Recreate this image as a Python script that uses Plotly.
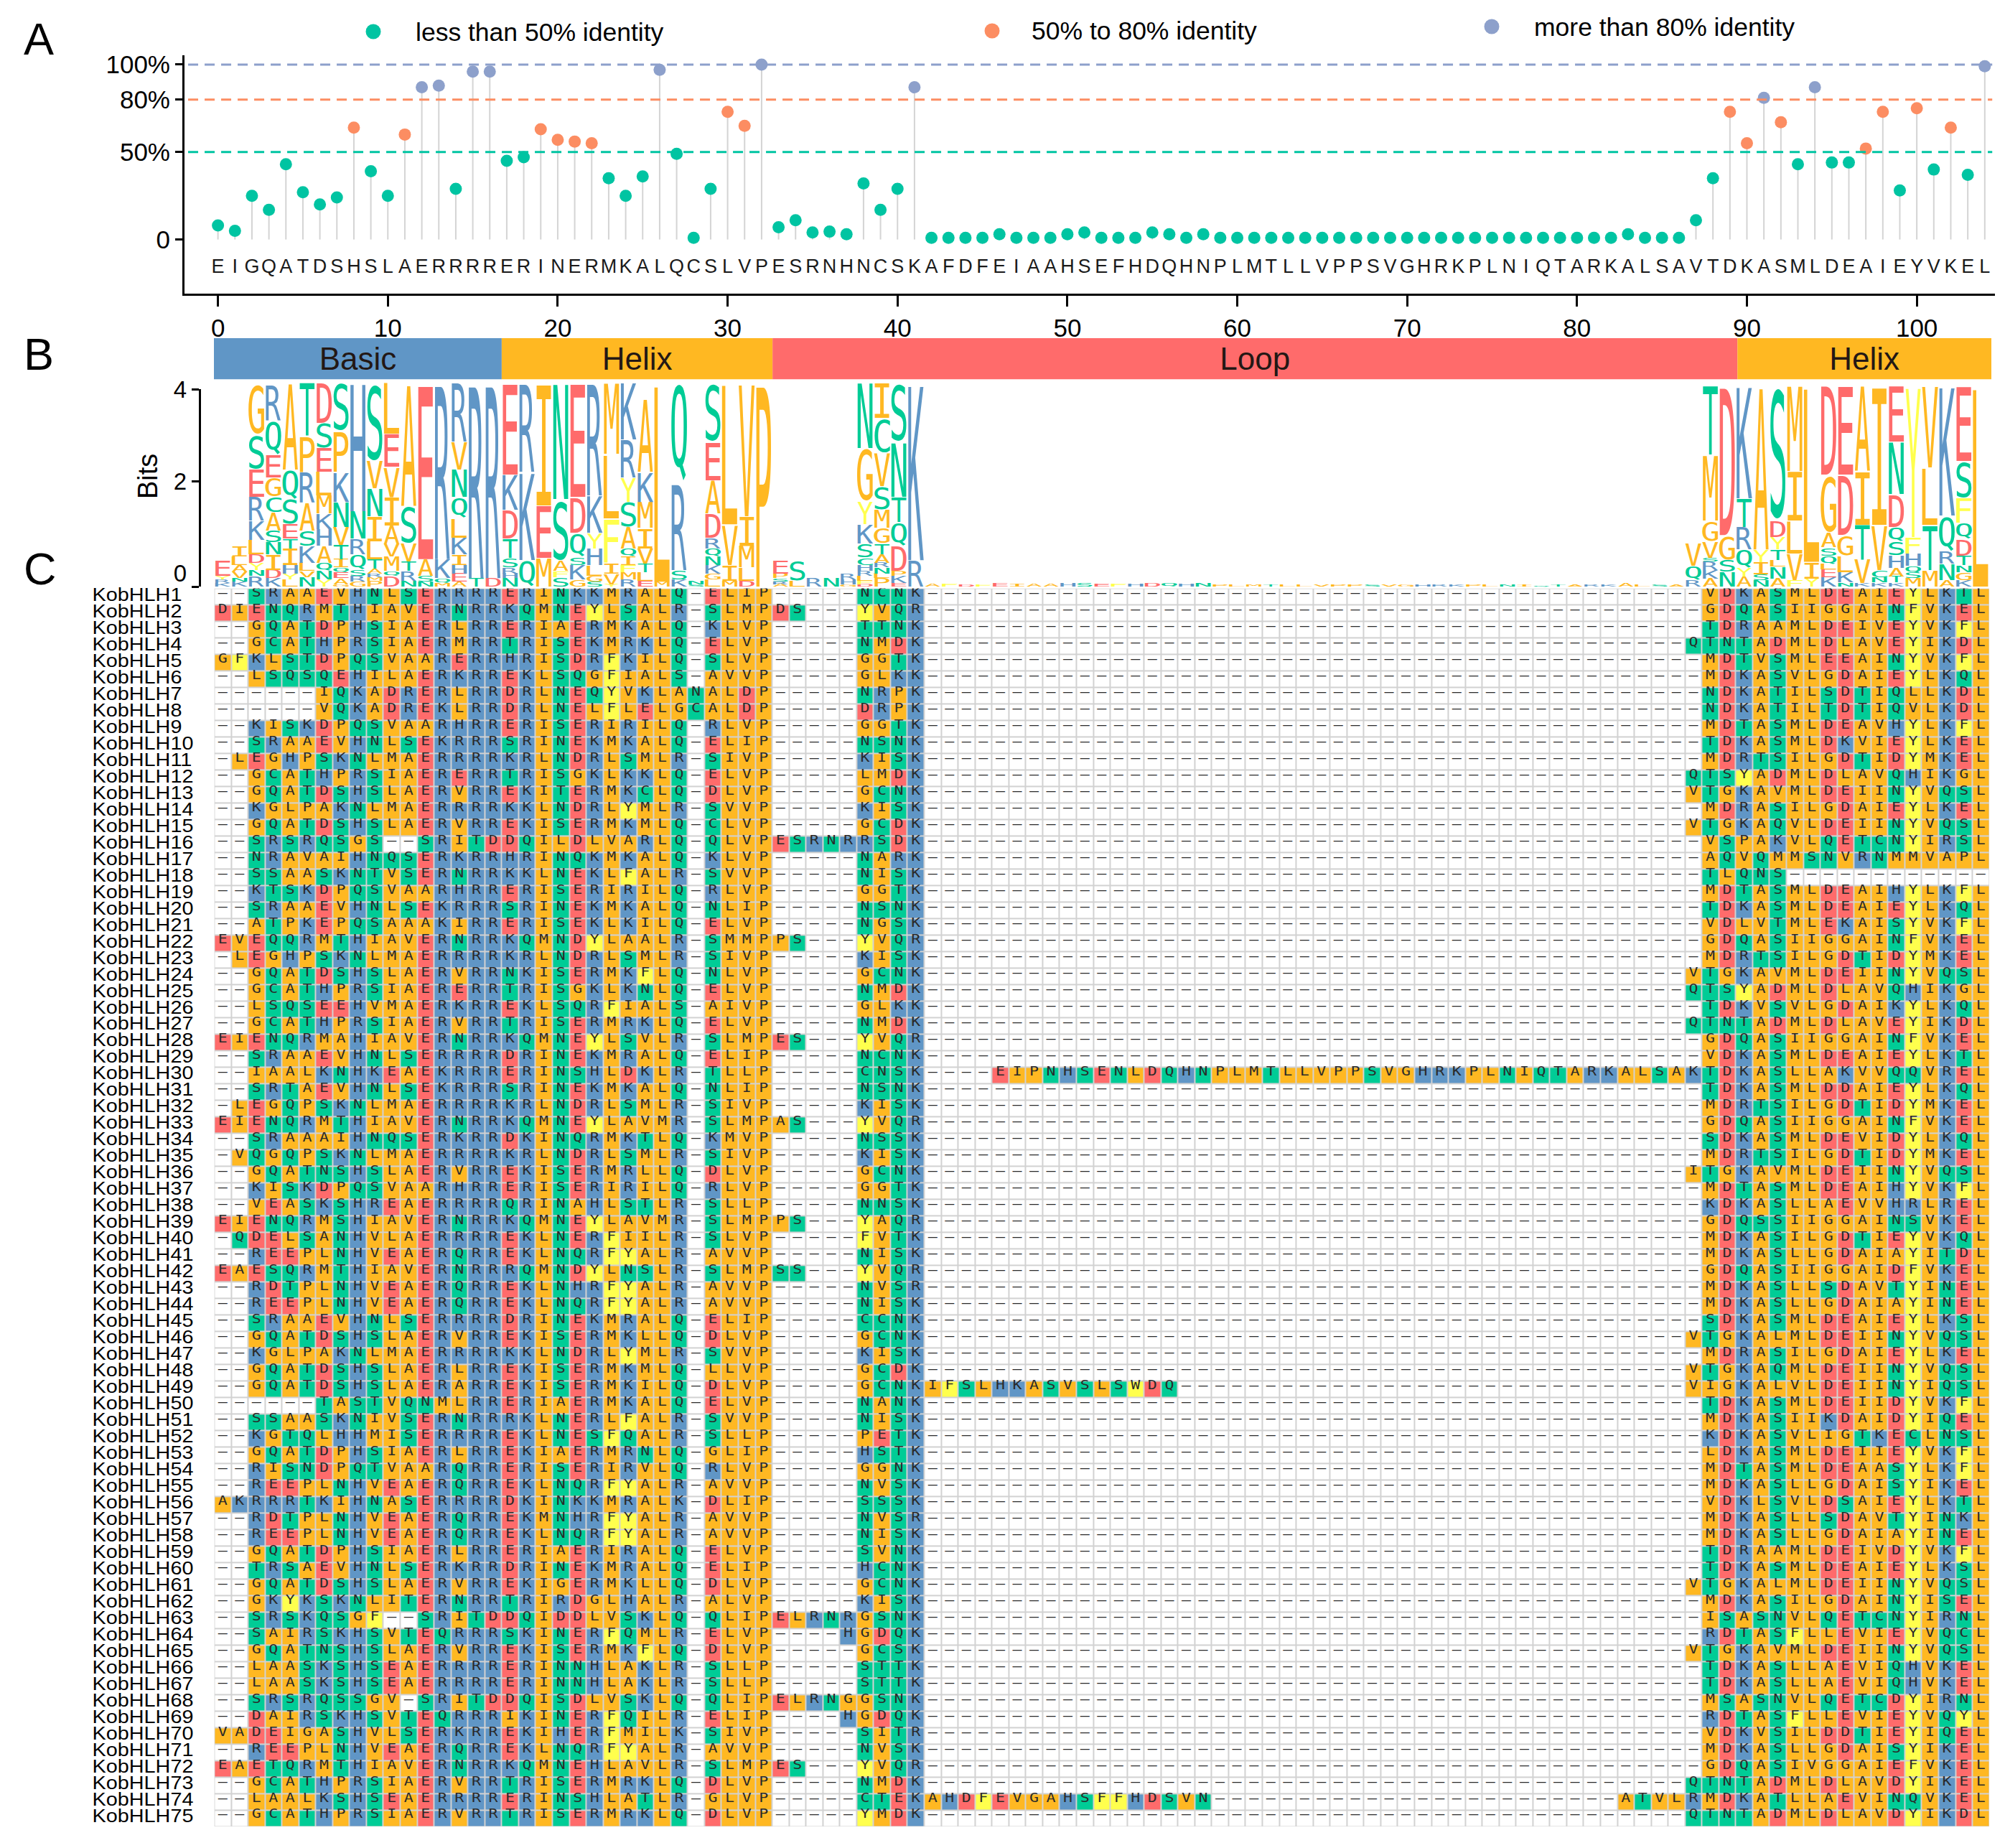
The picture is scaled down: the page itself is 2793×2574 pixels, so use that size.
import plotly.graph_objects as go

W, H = 2793, 2574
SANS = "Liberation Sans"
MONO = "DejaVu Sans Mono"

# ---------- panel A: per-column identity (%) and consensus ----------
identity = [8,5,25,17,43,27,20,24,64,39,25,60,87,88,29,96,96,45,47,63,57,56,55,35,25,36,97,49,1,29,
            73,65,100,7,11,4,4.5,3,32,17,29,87,1,1,1,1,3,1,1,1,3,4,1,1,1,4,3,1,3,1,
            1,1,1,1,1,1,1,1,1,1,1,1,1,1,1,1,1,1,1,1,1,1,1,3,1,1,1,11,35,73,
            55,81,67,43,87,44,44,52,73,28,75,40,64,37,99]
consensus = "EIGQATDSHSLAERRRRERINERMKALQCSLVPESRNHNCSKAFDFEIAAHSEFHDQHNPLMTLLVPPSVGHRKPLNIQTARKALSAVTDKASMLDEAIEYVKEL"
x_ticks = [0,10,20,30,40,50,60,70,80,90,100]
y_ticks = [0,50,80,100]
y_ticktext = ["0","50%","80%","100%"]
group_names = ["less than 50% identity","50% to 80% identity","more than 80% identity"]
group_colors = ["#00C4A2","#FC8D62","#8DA0CB"]

# ---------- panel B: regions ----------
region_names = ["Basic","Helix","Loop","Helix"]
region_start = [-0.5,16.5,32.5,89.5]
region_end = [16.5,32.5,89.5,104.5]
region_colors = ["#6096C6","#FFB822","#FF6B6B","#FFB822"]

# logo stacks, top letter first; left-hand heights are in 1/192 bit, right-hand in 1/111.5 bit
logo_left_letters = ["EYRK","ILAVNK","GSERKLDYNR","RQEGCASNIDK","AQSETIHYL","TPRASKLVN","DSELMKHAQNY","SPKNVTIQEAG",
    "HNRQSRG","SVNILTARMP","LEVIAVMQD","ASVTRN","EASN","RKQM","RVNQLKIHEA","RT","RD",
    "EKDTSRHN","RKQ","IEM","NSAFS","EDQSKG","RKYHLGS","MLFIVY","KRYSAQIFMR","AKMIVTLE","LM","QRSK","NS",
    "SEADRQNKGL","LVIM","VIMLD","P","EPSRA","SL","R","N","RHG","NGYKSCHRLFD","ICVSMGTARNLP","SNTQDPKE","KR"]
logo_left_heights = [[65,15,15,15],[45,35,28,27,15,20],[215,145,115,100,80,60,35,30,25,45],[150,145,95,80,65,75,50,50,65,35,35],
    [365,125,105,60,40,70,35,25,30],[225,150,130,115,65,70,35,25,40],[170,105,100,100,75,65,70,70,35,35,30],[205,170,125,105,75,60,35,20,25,25,10],
    [540,115,65,65,25,25,20],[330,115,115,105,75,40,20,15,15,25],[215,140,125,120,75,55,60,20,45],[515,160,75,40,40,25],
    [740,70,25,20],[740,80,20,15],[250,115,115,90,80,70,45,35,35,20],[820,35],[820,35],
    [387,148,120,80,40,25,20,35],[375,370,110],[515,220,120],[490,255,45,25,40],[480,150,100,35,60,30],[475,155,65,70,45,25,20],
    [300,270,185,45,45,10],[240,160,100,105,90,35,35,30,30,30],[310,125,110,85,65,35,35,25,65],[835,20],[420,365,40,30],[15,10],
    [250,160,140,100,45,35,35,35,25,30],[595,170,65,25],[560,125,90,55,25],[855],[55,20,13,12,10],[85,25],[35],[35],[25,20,10],
    [275,225,95,80,60,30,25,20,20,15,10],[150,145,140,100,75,65,45,35,20,25,20,35],[250,230,105,100,105,20,30,15],[745,110]]
logo_right_letters = ["VQR","TMGVSRKA","DGSN","KTRQYA","AYISN","SDYTLNA","MILVF","LIY","DGASQLEK","EDGLKN","AITVK","IVCNK",
    "ENDQSHATK","YFHQSM","VLTM","KQRNA","ESFQDTNGK","L"]
logo_right_heights = [[55,35,15],[170,160,50,40,10,20,20,20],[365,60,30,35],[275,70,55,45,20,25],[400,30,30,15,15],[330,40,30,25,17,28,20],
    [210,120,80,65,15],[430,40,20],[218,142,35,20,20,13,20,22],[218,147,50,40,25,10],[210,130,85,57,8],[340,110,18,12,10],
    [138,127,80,35,35,30,20,15,10],[370,40,30,15,15,20],[200,140,110,40],[318,87,30,40,15],[185,90,60,40,40,23,17,20,15],[490]]
logo_tiny_heights = [24,20,12,16,28,20,24,20,28,30,24,20,20,32,28,20,28,18,14,14,12,14,14,12,12,14,14,12,12,12,12,14,12,12,12,
                     12,12,14,14,12,14,28,16,14,12]

# ---------- panel C: alignment ----------
msa_left = """--SRAAEVHNLSERRRRERINKKMRALQ-ELIP-----NCNK
DIENQRMTHIAVERNRRKQMNEYLSALR-SLMPDS---YVQR
--GQATDPHSIAERLRRERIAERMKALQ-KLVP-----TTNK
--GCATHPRSIAERMRRTRISEKMRKLQ-ELVP-----NMDK
GFKLSTDPQSVAARERRHRISDRFKILQ-SLVP-----GGTK
--LSQSQEHILAERKRREKLSQGFIALS-AVVP-----GLKK
------IQKADRERLRRDRLNEQYVKLANALDP-----NRPK
------VQKADREKLRRDRLNELFLELGCALDP-----DRPK
--KISKDPQSVAARHRRERISERIRILQ-RLVP-----GGTK
--SRAAEVHNLSEKRRRSRINEKMKALQ-ELIP-----NSNK
-LEGHPSKNLMAERRRRKRLNDRLSMLR-SIVP-----KISK
--GCATHPRSIAERERRTRISGKLKKLQ-ELVP-----LMDK
--GQATDSHSLAERVRREKITERMKCLQ-DLVP-----GCNK
--KGLPAKNLMAERRRRKKLNDRLYMLR-SVVP-----KISK
--GQATDSHSLAERVRREKISERMKMLQ-CLVP-----GCDK
--SRSRQSGS--SRITDDQILDLVARLQ-QLVPESRNRRSDK
--NRAVAIHNQSERKRRHRINQKMKALQ-KLVP-----NARK
--SSAASKNTVSERNRRKKLNEKLFALR-SVVP-----NISK
--KTSKDPQSVAARHRRERISERIRILQ-RLVP-----GGTK
--SRAAEVHNLSEKRRRSRINEKMKALQ-NLIP-----NSNK
--ATPKEPQSAAAKIRRERISEKLKILQ-ELVP-----NGSK
EVEQQRMTHIAVERNRRKQMNDYLAALR-SMMPPS---YVQR
-LEGHPSKNLMAERRRRKRLNDRLSMLR-SIVP-----KISK
--GQATDSHSLAERVRRNKISERMKFLQ-NLVP-----GCNK
--GCATHPRSIAERERRTRISGKLKNLQ-ELVP-----NMDK
--LSQSEEHVMAERKRREKLSQRFIALS-AIVP-----GLKK
--GCATHPRSIAERVRRTRISERMRKLQ-ELVP-----NMDK
EIENQRMAHIAVERNRRKQMNEYLSVLR-SLMPES---YVQR
--SRAAEVHNLSERRRRDRINEKMRALQ-ELIP-----NCNK
--IAALKNHKEAEKRRRERINSHLDKLR-TLLP-----CNSK
--SRTAEVHNLSEKRRRSRINEKMKALQ-NLIP-----NSNK
-LEGQPSKNLMAERRRRKRLNDRLSMLR-SIVP-----KISK
EIENQRMTHIAVERNRRKQMNEYLAVMR-SLMPAS---YVQR
--SRAAAIHNQSERKRRDKINQRMKTLQ-KMVP-----NSSK
-VQGQPSKNLMAERRRRKRLNDRLSMLR-SIVP-----KISK
--GQATNSHSLAERVRREKISERMRLLQ-DLVP-----GCNK
--KISKDPQSVAARHRRERISERIRILQ-RLVP-----GGTK
--VEASKSHREAERRRRQRINAHLSTLR-SLLP-----NNSK
EIENQRMSHIAVERNRRKQMNEYLAVMR-SLMPPS---YAQR
-QDELSANHVLAERRRREKLNERFIILR-SLVP-----FVTK
--REEPLNHVEAERQRREKLNQRFYALR-AVVP-----NISK
EAESQRMTHIAVERNRRRQMNDYLNSLR-SLMPSS---YVQR
--RDTPLNHVEAERQRREKLNHRFYALR-AVVP-----NVSR
--REEPLNHVEAERQRREKLNQRFYALR-AVVP-----NISK
--SRAAEVHNLSERRRRDRINEKMRALQ-ELIP-----CCNK
--GQATDSHSLAERVRREKISERMKLLQ-DLVP-----GCNK
--KGLPAKNLMAERRRRKKLNDRLYMLR-SVVP-----KISK
--GQATDSHSLAERLRREKISERMKMLQ-LLVP-----GCDK
--GQATDSHSLAERARREKISERMKILQ-DLVP-----GCNK
------TASTVQNMLRRERIAERMKALQ-ELVP-----NANK
--SSAASKNIVSERNRRRKLNERLFALR-SVVP-----NISK
--KGTQLHHMISERRRREKLNESFQALR-SLLP-----PETK
--GQATDPHSIAERLRREKIAERMRNLQ-GLIP-----HSTK
--RISNDPQTVAARQRRERISERIRVLQ-RLVP-----GGNK
--REEPLNHVEAERQRREKLNQRFYALR-AVVP-----NVSK
AKRRRTKIHNASERRRRDKINKKMRALK-DLIP-----SSSK
--RDTPLNHVEAERQRREKMNHRFYALR-AVVP-----NVSR
--REEPLNHVEAERQRREKLNQRFYALR-AVVP-----NISK
--GQATDPHSIAERLRRERIAERIRALQ-ELVP-----SVNK
--TRSAEVHNLSERKRRDRINEKMRALQ-ELIP-----HCNK
--GQATDSHSLAERVRREKIGERMKLLQ-DLVP-----GCNK
--GKYKSKNLITERNRRTRIRDGLHALR-ALVP-----KISK
--SRSKQSGF--SRITDDQIDDLVSKLQ-QLIPELRNRGSNK
--SAIRSKHSVTEQRRRSKINERFQMLR-ELVP----HGDQK
--GQATNSHSLAERVRREKISERMKFLQ-DLVP-----GCSK
--LAASKSHSEAERRRRERINNHLAKLR-SLLP-----STTK
--LAASKSHSEAERRRRERINNHLAKLR-SLLP-----STTK
--SRSRQSSGV-SRITDDQISDLVSKLQ-QLIPELRNGGSNK
--DAIRSKHSVTEQRRRIKINERFQILR-ELIP----HGDQK
VADEIGASHVLSERKRREKIHERFMILK-SIVP-----SITR
--REEPLNHVEAERQRREKLNQRFYALR-AVVP-----NVSK
EAETQRMTHIAVERNRRKQMNEHLAVLR-SLMPES---YVQR
--GCATHPRSIAERVRRTRISERMRKLQ-DLVP-----NMDK
--LAALKSHSEAERRRRERINSHLATLR-GLVP-----CTEK
--GCATHPRSIAERVRRTRISERMRKLQ-DLVP-----YMDK""".split()
msa_right = """-VDKASMLDEAIEYLKTL
-GDQASIIGGAINFVKEL
-TDRAAMLDEIVEYVKFL
QTNTADMLDLAVEYIKDL
-MDTVSMLEEAINYVKFL
-MDKASVLGDAIEYLKQL
-NDKATILSDTIQLLKDL
-NDKATILTDTIQVLKDL
-MDTASMLDEAVHYLKFL
-TDKASMLDKVIEYLKEL
-MDRTSILGDTIDYMKEL
QTSYADMLDLAVQHIKGL
VTGKAVMLDEIINYVQSL
-MDRASILGDAIEYLKEL
VTGKAQVLDEIINYVQSL
-VSPAKVLQETCNYIRSL
-AQVQMMSNVRNMMVAPL
-TLQNS------------
-MDTASMLDEAIHYLKFL
-TDKASMLDEAIEYLKQL
-VDLVTMLEKAISYVKFL
-GDQASIIGGAINFVKEL
-MDRTSILGDTIDYMKEL
VTGKAVMLDEIINYVQSL
QTSYADMLDLAVQHIKGL
-TDKVSVLGDAIKYLKQL
QTNTADMLDLAVEYIKDL
-GDQASIIGGAINFVKEL
-VDKASMLDEAIEYLKTL
KTDKASLLAKVVQQVREL
-TDKASMLDDAIEYLKQL
-MDRTSILGDTIDYMKEL
-GDQASIIGGAINFVKEL
-SDKASMLDEVIDYLKQL
-MDRTSILGDTIDYMKEL
ITGKAVMLDEIINYVQSL
-MDTASMLDEAIHYVKFL
-KDKASLLAEVVHRLREL
-GDQSSIIGGAINSVKEL
-MDKASILGDTIEYVKQL
-MDKASLLGDAIAYITDL
-GDQASIIGGAIDFVKEL
-MDKASLLSDAVTYINEL
-MDKASLLGDAIAYINEL
-SDKASMLDEAIEYLKSL
VTGKALMLDEIINYVQSL
-MDRASILGDAIEYLKEL
VTGKAQMLDEIINYVQSL
VIGKALVLDEIINYIQSL
-TDKASMLDEIIDYVKFL
-MDKASIIKDAIDYIQEL
-KDKASVLIGTKECLNSL
-LDKASMLDEIIEYVKFL
-MDTASMLDEAASYLKFL
-MDKASLLGDAISYIKEL
-VDKLSVLDSAIEYLKTL
-MDKASLLSDAVTYINKL
-MDKASLLGDAIAYINEL
-TDRAAMLDEIVDYVKFL
-TDKASMLDEAIEYLKSL
VTGKALMLDEIINYVQSL
-MDKASILGDAINYISEL
-ISASNVLQETCNYIRNL
-RDTASFLLEVIEYVQCL
VTGKAVMLDEIINYVQSL
-TDKASLLAEVIQHVKEL
-TDKASLLAEVIQHVKEL
-MSASNVLQETCDYIRNL
-RDTASFLLEVIEYVQYL
-VDKVSILDDTIEYIQEL
-MDKASLLGDAISYIKEL
-GDQASIVGGAIEFVKEL
QTNTADMLDLAVDYIKEL
RMDKATLLAEVINQVKEL
QTNTADMLDLAVDYIKDL""".split()
msa_insert_rows = [30,49,74,74]
msa_insert_start = [46,42,42,83]
msa_insert_text = ["EIPNHSENLDQHNPLMTLLVPPSVGHRKPLNIQTARKALSA","IFSLHKASVSLSWDQ","AHDFEVGAHSFFHDSVN","ATVL"]
residue_classes = ["-","AVILMPG","FYW","KRH","DE","STNQC"]
class_colors = ["#FFFFFF","#FFB822","#FFFF4D","#6096C6","#FF6B6B","#00CC96"]

# ---------- derived ----------
row_names = [f"KobHLH{i+1}" for i in range(len(msa_left))]
rows = []
for r, (a, b) in enumerate(zip(msa_left, msa_right)):
    mid = ["-"] * 45
    for rr, st, tx in zip(msa_insert_rows, msa_insert_start, msa_insert_text):
        if rr == r + 1:
            mid[st - 42:st - 42 + len(tx)] = list(tx)
    rows.append(a + "".join(mid) + b)
cls = {ch: i for i, s in enumerate(residue_classes) for ch in s}
color_of = {ch: class_colors[i] for ch, i in cls.items()}
z = [[cls[c] for c in row] for row in rows]
n_cls = len(class_colors)
cs = []
for i, c in enumerate(class_colors):
    cs += [[i / n_cls, c], [(i + 1) / n_cls, c]]

px = lambda v: v / W
py = lambda v: 1 - v / H
COL_L, COL_R = 298.4, 2771.0
X_C = [px(COL_L), px(COL_R)]
BITS_BASE = -0.297

def axis_off(**kw):
    return dict(visible=False, fixedrange=True, **kw)

fig = go.Figure()

# panel A
stem_x, stem_y = [], []
for i, v in enumerate(identity):
    stem_x += [i, i, None]
    stem_y += [0, v, None]
fig.add_trace(go.Scatter(x=stem_x, y=stem_y, mode="lines", line=dict(color="#D4D4D4", width=2),
                         hoverinfo="skip", showlegend=False))
def group(v):
    return 0 if v < 50 else (1 if v <= 80 else 2)
fig.add_trace(go.Scatter(x=list(range(len(identity))), y=identity, mode="markers",
                         marker=dict(size=17, color=[group_colors[group(v)] for v in identity], line=dict(width=0)),
                         hoverinfo="skip", showlegend=False, cliponaxis=False))
fig.add_trace(go.Scatter(x=list(range(len(consensus))), y=[-16.2] * len(consensus), mode="text",
                         text=list(consensus), textfont=dict(family=SANS, size=27, color="#1a1a1a"),
                         hoverinfo="skip", showlegend=False))

# panel B band
fig.add_trace(go.Bar(orientation="h", y=[0.5] * 4, base=region_start,
                     x=[e - s for s, e in zip(region_start, region_end)], width=1,
                     marker=dict(color=region_colors, line=dict(width=0)), text=region_names,
                     textposition="inside", insidetextanchor="middle", constraintext="none", textangle=0,
                     textfont=dict(family=SANS, size=44, color="#231815"),
                     xaxis="x4", yaxis="y4", hoverinfo="skip", showlegend=False))

# panel B logo
lx, ly, lt, lc, lh = [], [], [], [], []
def add_stack(col, letters, heights, unit):
    y = BITS_BASE
    for ch, h in reversed(list(zip(letters, heights))):
        hb = h / unit
        lx.append(col); ly.append(y + hb / 2); lt.append(ch); lc.append(color_of[ch]); lh.append(hb)
        y += hb
for c, (a, b) in enumerate(zip(logo_left_letters, logo_left_heights)):
    add_stack(c, a, b, 192.0)
for c, h in enumerate(logo_tiny_heights):
    add_stack(42 + c, consensus[42 + c], [h * 0.5], 192.0)
for c, (a, b) in enumerate(zip(logo_right_letters, logo_right_heights)):
    add_stack(87 + c, a, b, 111.5)
# the axis stops at the 4-bit tick, letters above it stay visible through a taller hidden axis
fig.add_trace(go.Scatter(x=lx, y=ly, mode="text", text=lt, customdata=lh, meta="logo",
                         textposition="middle center", textfont=dict(family=MONO, size=40, color=lc),
                         xaxis="x2", yaxis="y6", cliponaxis=False, hoverinfo="skip", showlegend=False))
fig.add_trace(go.Scatter(x=[0], y=[0], mode="none", xaxis="x2", yaxis="y2", hoverinfo="skip", showlegend=False))
fig.add_trace(go.Scatter(x=[0], y=[0], mode="none", xaxis="x2", yaxis="y5", hoverinfo="skip", showlegend=False))

# panel C
fig.add_trace(go.Heatmap(z=z, zmin=-0.5, zmax=n_cls - 0.5, colorscale=cs, showscale=False, xgap=2, ygap=2,
                         xaxis="x3", yaxis="y3", hoverinfo="skip"))
tx, ty, tt = [], [], []
for r, row in enumerate(rows):
    for c, ch in enumerate(row):
        tx.append(c); ty.append(r); tt.append("\u2013" if ch == "-" else ch)
fig.add_trace(go.Scatter(x=tx, y=ty, mode="text", text=tt, meta="msa", textposition="middle center",
                         textfont=dict(family=MONO, size=18, color="#2a2a2a"),
                         xaxis="x3", yaxis="y3", hoverinfo="skip", showlegend=False))
fig.add_trace(go.Scatter(x=[128.6] * len(row_names), y=[i + 0.25 for i in range(len(row_names))], mode="text",
                         text=row_names, meta="labels", textposition="middle right", cliponaxis=False,
                         textfont=dict(family=SANS, size=28.8, color="#000000"),
                         xaxis="x6", yaxis="y3", hoverinfo="skip", showlegend=False))

shapes = [dict(type="rect", xref="x3", yref="y3", x0=-0.5, x1=104.5, y0=-0.5, y1=74.5, layer="below",
               fillcolor="#D2D2D2", line=dict(width=0))]
for val, col in zip([50, 80, 100], group_colors):
    shapes.append(dict(type="line", xref="x domain", yref="y", x0=0.002, x1=0.9985, y0=val, y1=val,
                       line=dict(color=col, width=3, dash="14px,9px")))

ann = []
def note(x, y, text, size, anchor="left", angle=0, color="#000000"):
    ann.append(dict(x=px(x), y=py(y), xref="paper", yref="paper", text=text, showarrow=False, xanchor=anchor,
                    yanchor="middle", textangle=angle, font=dict(family=SANS, size=size, color=color)))
note(54, 54, "A", 63, "center"); note(54, 493, "B", 63, "center"); note(56, 792, "C", 63, "center")
note(206, 664, "Bits", 38, "center", -90)
for (dx, dy, tx0, ty0), name, col in zip([(520, 44, 577, 45), (1382, 43, 1435, 43), (2078, 37, 2135, 38)], group_names, group_colors):
    note(tx0, ty0, name, 35.5)
    shapes.append(dict(type="circle", xref="paper", yref="paper", x0=px(dx - 10.5), x1=px(dx + 10.5),
                       y0=py(dy + 10.5), y1=py(dy - 10.5), fillcolor=col, line=dict(width=0)))

black = "#000000"
fig.update_layout(
    width=W, height=H, autosize=False, margin=dict(l=0, r=0, t=0, b=0, autoexpand=False), paper_bgcolor="white",
    plot_bgcolor="rgba(0,0,0,0)",
    hovermode=False, showlegend=False, barmode="overlay", shapes=shapes, annotations=ann,
    font=dict(family=SANS, color=black),
    xaxis=dict(domain=[px(257), px(2779)], range=[-1.97, 104.6], anchor="y", tickmode="array", tickvals=x_ticks,
               ticks="outside", ticklen=15, tickwidth=2.5, tickcolor=black, showline=True, linecolor=black, linewidth=3,
               showgrid=False, zeroline=False, tickfont=dict(size=35), fixedrange=True),
    yaxis=dict(domain=[py(409), py(77)], range=[-30.95, 105.3], anchor="x", tickmode="array", tickvals=y_ticks,
               ticktext=y_ticktext, ticks="outside", ticklen=10, tickwidth=2.5, tickcolor=black, showline=True,
               linecolor=black, linewidth=3, showgrid=False, zeroline=False, tickfont=dict(size=35), fixedrange=True),
    xaxis2=axis_off(domain=X_C, range=[-0.5, 104.5], anchor="y2"),
    yaxis2=dict(domain=[py(817), py(542)], range=[BITS_BASE, 4], anchor="free", position=px(278), tickmode="array",
                tickvals=[4, 2, 0], ticks="", ticklabelstandoff=18, showline=False, showgrid=False, zeroline=False,
                tickfont=dict(size=33), fixedrange=True),
    yaxis5=dict(domain=[py(817), py(542)], range=[BITS_BASE, 4], anchor="free", position=px(278), overlaying="y2",
                tickmode="array", tickvals=[4, 2, BITS_BASE], ticks="outside", ticklen=10, tickwidth=2.5, tickcolor=black,
                showticklabels=False, showline=True, linecolor=black, linewidth=3, showgrid=False, zeroline=False,
                fixedrange=True),
    # same scale as yaxis2 (64 px per bit), extended up to the top of the logo
    yaxis6=axis_off(domain=[py(817), py(532)], range=[BITS_BASE, 4 + 10 / 64], anchor="x2"),
    xaxis3=axis_off(domain=X_C, range=[-0.5, 104.5], anchor="y3"),
    yaxis3=axis_off(domain=[py(2544), py(819.4)], range=[74.5, -0.5], anchor="x3"),
    xaxis4=axis_off(domain=[px(298), px(2774)], range=[-0.5, 104.5], anchor="y4"),
    yaxis4=axis_off(domain=[py(528.6), py(471)], range=[0, 1], anchor="x4"),
    xaxis6=axis_off(domain=[0, px(298)], range=[0, 298], anchor="y3"),
)

post = r"""
document.documentElement.style.margin='0';document.body.style.margin='0';
var gd=document.getElementById('{plot_id}');var fl=gd._fullLayout;
function axes(t){var a=t.xaxis||'x',b=t.yaxis||'y';return [fl['xaxis'+a.slice(1)],fl['yaxis'+b.slice(1)]];}
function find(meta){for(var i=0;i<gd.calcdata.length;i++){var c=gd.calcdata[i];if(c[0]&&c[0].trace.meta===meta)return c;}return null;}
function scale(meta,sx,sy){var c=find(meta);if(!c)return;var ax=axes(c[0].trace);
 c[0].node3.node().querySelectorAll('g.textpoint').forEach(function(g){var d=g.__data__;
  var X=ax[0].c2p(d.x),Y=ax[1].c2p(d.y);
  g.setAttribute('transform','matrix('+sx+' 0 0 '+sy+' '+X*(1-sx)+' '+Y*(1-sy)+')');});}
scale('msa',1.2,1);scale('labels',1,0.89);
(function(){var c=find('logo');if(!c)return;var tr=c[0].trace,ax=axes(tr);
 var ctx=document.createElement('canvas').getContext('2d');ctx.font='40px "DejaVu Sans Mono"';
 var hw=Math.abs(ax[0].c2p(1)-ax[0].c2p(0))*0.47;
 c[0].node3.node().querySelectorAll('g.textpoint').forEach(function(g){var d=g.__data__;
  var h=tr.customdata[d.i],m=ctx.measureText(d.tx),bb=g.getBBox();
  var base=bb.y+m.fontBoundingBoxAscent;
  var L=bb.x-m.actualBoundingBoxLeft,R=bb.x+m.actualBoundingBoxRight,T=base-m.actualBoundingBoxAscent,B=base+m.actualBoundingBoxDescent;
  var X=ax[0].c2p(d.x),Y0=ax[1].c2p(d.y+h/2),Y1=ax[1].c2p(d.y-h/2);
  var sx=2*hw/(R-L),sy=(Y1-Y0)/(B-T);
  g.setAttribute('transform','matrix('+sx+' 0 0 '+sy+' '+(X-hw-L*sx)+' '+(Y0-T*sy)+')');});})();
"""
fig.write_html("out.html", post_script=post, config={"displayModeBar": False, "responsive": False})
